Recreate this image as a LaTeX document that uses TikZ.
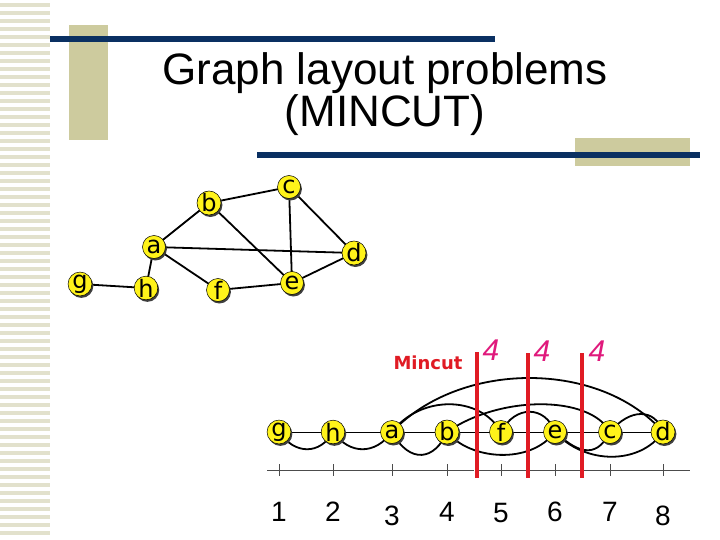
\documentclass[tikz,border=0pt]{standalone}
\usepackage{fontspec}
\setmainfont{Liberation Sans}
\newfontfamily\lblfont{DejaVu Sans}
\usetikzlibrary{shadows}
\definecolor{navy}{HTML}{0A3062}
\definecolor{beige}{HTML}{CDCB9E}
\definecolor{stripe}{HTML}{E2E1CC}
\definecolor{cutred}{HTML}{E01B24}
\definecolor{mag}{HTML}{E0197C}
\begin{document}
\begin{tikzpicture}[x=1pt,y=-1pt,
  vtx/.style={circle,fill=yellow!90!white,draw=black,line width=0.5pt,inner sep=0pt,minimum size=23pt,
    font=\lblfont\fontsize{24}{24}\selectfont,
    drop shadow={shadow xshift=1.4pt,shadow yshift=-2pt,fill=black!75,opacity=1}},
  edge/.style={line width=1.8pt,black},
  cut/.style={line width=3.5pt,cutred},
  num/.style={font=\fontsize{28}{28}\selectfont},
  four/.style={font=\itshape\fontsize{30}{30}\selectfont,text=mag}]
\useasboundingbox (0,0) rectangle (720,540);
\fill[white] (0,0) rectangle (720,540);
\foreach \k in {0,...,66}{\fill[stripe] (0,{3+\k*8}) rectangle (50,{7+\k*8});}
\fill[beige] (69,25) rectangle (108,140);
\fill[navy] (50,36) rectangle (495,42);
\fill[beige] (575,138) rectangle (690,166);
\fill[navy] (257,152) rectangle (700,158);
\node[font=\fontsize{44}{41}\selectfont,align=center,text=black] (title) at (385,94) {Graph layout problems\\(MINCUT)};
% top graph
\coordinate (pg) at (80,284); \coordinate (ph) at (146,288); \coordinate (pf) at (218,290);
\coordinate (pe) at (292,283); \coordinate (pa) at (154,247); \coordinate (pb) at (209,203);
\coordinate (pc) at (289,187); \coordinate (pd) at (354,253);
\foreach \u/\v in {g/h,h/a,a/b,a/d,a/f,f/e,b/c,b/e,c/e,c/d,d/e}{\draw[edge] (p\u) -- (p\v);}
\foreach \t in {g,h,f,e,a,b,c,d}{\node[vtx] (\t) at (p\t) {\t};}
% axis
\coordinate (ax0) at (267,470); \coordinate (ax1) at (474,470);
\coordinate (ax2) at (478,470); \coordinate (ax3) at (690,470);
\draw[line width=1pt,black!70] (ax0) -- (ax1);
\draw[line width=1pt,black!70] (ax2) -- (ax3);
\foreach \x/\n/\dy in {279/1/0,333/2/0,392/3/4,447/4/0,501/5/1,555/6/0,610/7/0,663/8/4}{
  \draw[line width=1pt,black!70] (\x,464) -- (\x,476);
  \node[num] (n\n) at (\x,{512+\dy}) {\n};}
% linear nodes
\coordinate (G) at (279,432); \coordinate (H) at (333,432); \coordinate (A) at (392,432);
\coordinate (B) at (447,432); \coordinate (F) at (501,432); \coordinate (E) at (555,432);
\coordinate (C) at (610,432); \coordinate (D) at (663,432);
\draw[line width=0.6pt] (G) -- (D);
\begin{scope}[edge]
\draw (G) .. controls (295,455) and (320,455) .. (H);
\draw (H) .. controls (350,455) and (375,455) .. (A);
\draw (A) .. controls (410,465) and (435,460) .. (B);
\draw (B) .. controls (470,460) and (530,465) .. (E);
\draw (E) .. controls (575,450) and (595,462) .. (C);
\draw (E) .. controls (585,465) and (640,465) .. (D);
\draw (A) .. controls (460,360) and (600,360) .. (D);
\draw (A) .. controls (420,395) and (480,395) .. (F);
\draw (B) .. controls (500,395) and (590,395) .. (C);
\draw (F) .. controls (515,405) and (545,405) .. (E);
\draw (C) .. controls (630,408) and (655,408) .. (D);
\end{scope}
\foreach \N/\t in {G/g,H/h,A/a,B/b,F/f,E/e,C/c,D/d}{\node[vtx] (L\t) at (\N) {\t};}
% cuts
\coordinate (k1t) at (477,352); \coordinate (k1b) at (477,478);
\coordinate (k2t) at (528,353); \coordinate (k2b) at (528,478);
\coordinate (k3t) at (582,353); \coordinate (k3b) at (582,478);
\draw[cut] (k1t) -- (k1b); \draw[cut] (k2t) -- (k2b); \draw[cut] (k3t) -- (k3b);
\node[four] (f1) at (491,350) {4};
\node[four] (f2) at (542,351) {4};
\node[four] (f3) at (597,351) {4};
\node[text=cutred,font=\lblfont\bfseries\fontsize{18}{18}\selectfont] (mc) at (428,363) {Mincut};
\end{tikzpicture}
\end{document}
